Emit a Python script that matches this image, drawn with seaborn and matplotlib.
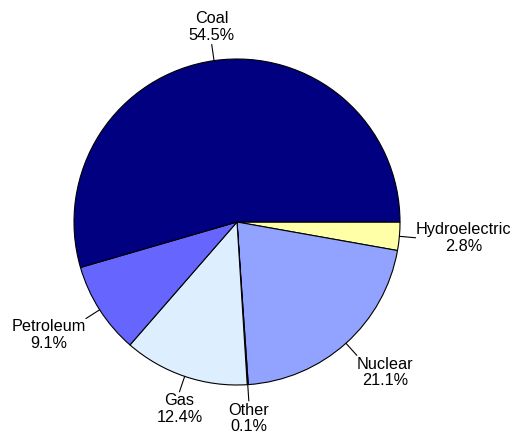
import numpy as np
import matplotlib
matplotlib.use("Agg")
import matplotlib.pyplot as plt
import seaborn as sns

# Data (clockwise from 3 o'clock)
categories = ["Hydroelectric", "Nuclear", "Other", "Gas", "Petroleum", "Coal"]
shares = [2.8, 21.1, 0.1, 12.4, 9.1, 54.5]
colors = ["#FFFFA8", "#91A3FF", "#C8D8F8", "#DDEEFF", "#6666FF", "#000080"]

sns.set_theme(style="white")
plt.rcParams['font.family'] = ['Liberation Sans', 'DejaVu Sans']

fig = plt.figure(figsize=(5.11, 4.36), dpi=100)
ax = fig.add_axes([0, 0, 1, 1])
wedges, _ = ax.pie(shares, colors=colors, startangle=0, counterclock=False,
                   wedgeprops=dict(edgecolor="black", linewidth=0.8),
                   radius=1.0)

total = sum(shares)
cum = 0.0
for cat, val in zip(categories, shares):
    mid = -(cum + val / 2) / total * 360.0
    cum += val
    a = np.deg2rad(mid)
    c, s = np.cos(a), np.sin(a)
    ax.plot([c * 1.0, c * 1.1], [s * 1.0, s * 1.1], color="black", lw=0.8)
    ha = "left" if c > 0.5 else ("right" if c < -0.5 else "center")
    va = "bottom" if s > 0.3 else ("top" if s < -0.3 else "center")
    tx, ty = c * 1.1, s * 1.11
    ax.text(tx, ty, f"{cat}\n{val:.1f}%", ha=ha, va=va, multialignment="center",
            fontsize=11.7, color="black", linespacing=1.12)

r = 163.0
cx, cy = 237.0, 214.0
ax.set_xlim(-cx / r, (511 - cx) / r)
ax.set_ylim(-cy / r, (436 - cy) / r)
ax.set_aspect("equal")
ax.axis("off")
fig.savefig("out.png", dpi=100, facecolor="white")
